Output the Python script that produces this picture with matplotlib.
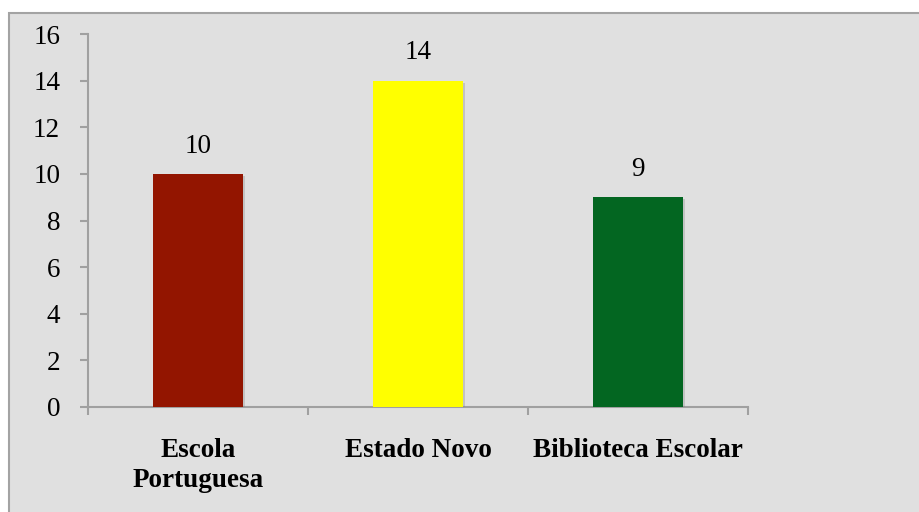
import matplotlib.pyplot as plt
import matplotlib.patheffects as pe
from matplotlib.patches import Rectangle

categorias = ["Escola\nPortuguesa", "Estado Novo", "Biblioteca Escolar"]
valores = [10, 14, 9]
cores = ["#931500", "#FFFF00", "#036621"]
yticks = [0, 2, 4, 6, 8, 10, 12, 14, 16]

plt.rcParams["font.family"] = ["Liberation Serif", "DejaVu Serif"]

fig = plt.figure(figsize=(9.19, 5.12), dpi=100)
fig.patch.set_facecolor("white")
# fundo cinzento com moldura
fig.patches.append(Rectangle((9 / 919, -0.01), 1, 1 - 13 / 512 + 0.01,
                             transform=fig.transFigure, facecolor="#e0e0e0",
                             edgecolor="#a3a3a3", linewidth=1.5, zorder=-10))

ax = fig.add_axes([88 / 919, 1 - 407 / 512, (748 - 88) / 919, (407 - 34) / 512])
ax.set_facecolor("none")

x = range(len(categorias))
barras = ax.bar(x, valores, width=0.405, color=cores, zorder=3)
for b in barras:
    b.set_path_effects([pe.SimplePatchShadow(offset=(1.5, -1.5), shadow_rgbFace="gray", alpha=0.3),
                        pe.Normal()])
for b, v in zip(barras, valores):
    ax.annotate(str(v), (b.get_x() + b.get_width() / 2, v), xytext=(0, 11),
                textcoords="offset points", ha="center", va="bottom", fontsize=19.5)

ax.set_xlim(-0.5, len(categorias) - 0.5)
ax.set_ylim(0, 16)
ax.set_yticks(yticks)
ax.set_xticks(x)
ax.set_xticklabels(categorias, fontweight="bold", fontsize=19.5, linespacing=1.3)
ax.set_xticks([-0.5, 0.5, 1.5, 2.5], minor=True)

for s in ["top", "right"]:
    ax.spines[s].set_visible(False)
for s in ["left", "bottom"]:
    ax.spines[s].set_color("#a0a0a0")
    ax.spines[s].set_linewidth(1.5)

ax.tick_params(axis="y", labelsize=19.5, length=6, width=1.5, color="#a0a0a0", pad=14)
ax.tick_params(axis="x", which="major", length=0, pad=22)
ax.tick_params(axis="x", which="minor", length=6, width=1.5, color="#a0a0a0")

fig.savefig("out.png", dpi=100)
